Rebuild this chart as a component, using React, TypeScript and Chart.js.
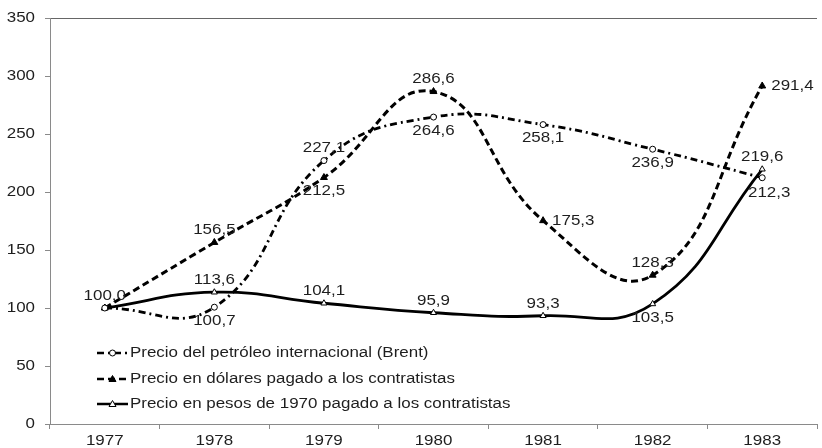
import React, { useEffect, useRef } from "react";
import { Chart, registerables } from "chart.js";

Chart.register(...registerables);

const years = ["1977", "1978", "1979", "1980", "1981", "1982", "1983"];
const brent = [100.0, 100.7, 227.1, 264.6, 258.1, 236.9, 212.3];
const dollars = [100.0, 156.5, 212.5, 286.6, 175.3, 128.3, 291.4];
const pesos = [100.0, 113.6, 104.1, 95.9, 93.3, 103.5, 219.6];

const brentLabelPos = ["above", "below", "above", "below", "below", "below", "belowRight"];
const dollarsLabelPos = ["none", "above", "below", "above", "right", "above", "right"];
const pesosLabelPos = ["none", "above", "above", "above", "above", "below", "above"];

const seriesNames = [
  "Precio del petróleo internacional (Brent)",
  "Precio en dólares pagado a los contratistas",
  "Precio en pesos de 1970 pagado a los contratistas",
];

const yTicks = [0, 50, 100, 150, 200, 250, 300, 350];

const FONT = "'Liberation Sans', Arial, sans-serif";
const FONT_SIZE = 14;
const STRETCH = 1.21;
const TEXT = "#1e1e1e";
const AXIS = "#8a8a8a";

const fmt = (v: number) => v.toFixed(1).replace(".", ",");

function drawText(ctx: any, text: string, x: number, y: number, align: string) {
  ctx.save();
  ctx.translate(x, y);
  ctx.scale(STRETCH, 1);
  ctx.font = `${FONT_SIZE}px ${FONT}`;
  ctx.fillStyle = TEXT;
  ctx.textAlign = align;
  ctx.textBaseline = "middle";
  ctx.fillText(text, 0, 0);
  ctx.restore();
}

const labelPlugin = {
  id: "valueLabels",
  afterDatasetsDraw(chart: any) {
    const ctx = chart.ctx;
    const positions = [brentLabelPos, dollarsLabelPos, pesosLabelPos];
    chart.data.datasets.forEach((ds: any, i: number) => {
      const meta = chart.getDatasetMeta(i);
      meta.data.forEach((pt: any, j: number) => {
        const pos = positions[i][j];
        if (pos === "none") return;
        const text = fmt(ds.data[j]);
        let x = pt.x;
        let y = pt.y;
        let align = "center";
        if (pos === "above") y -= 12;
        else if (pos === "below") y += 14;
        else if (pos === "belowRight") {
          y += 15;
          x += 7;
        } else if (pos === "right") {
          align = "left";
          x += 9;
        }
        drawText(ctx, text, x, y, align);
      });
    });
  },
};

const axisLabelPlugin = {
  id: "axisLabels",
  afterDraw(chart: any) {
    const ctx = chart.ctx;
    const ys = chart.scales.y;
    const xs = chart.scales.x;
    yTicks.forEach((v) => {
      drawText(ctx, String(v), ys.right - 15, ys.getPixelForValue(v), "right");
    });
    years.forEach((lab, i) => {
      drawText(ctx, lab, xs.getPixelForTick(i), xs.top + 17, "center");
    });
  },
};

const legendPlugin = {
  id: "insideLegend",
  afterDraw(chart: any) {
    const ctx = chart.ctx;
    const x0 = 97;
    const x1 = 128;
    const rows = [353, 379, 404];
    const dashes = [[7, 4, 2, 4], [7, 4], []];
    rows.forEach((y, i) => {
      ctx.save();
      ctx.strokeStyle = "#000";
      ctx.lineWidth = 2.5;
      ctx.setLineDash(dashes[i]);
      ctx.beginPath();
      ctx.moveTo(x0, y);
      ctx.lineTo(x1, y);
      ctx.stroke();
      ctx.setLineDash([]);
      const cx = (x0 + x1) / 2;
      ctx.lineWidth = 1;
      if (i === 0) {
        ctx.fillStyle = "#fff";
        ctx.beginPath();
        ctx.arc(cx, y, 3, 0, Math.PI * 2);
        ctx.fill();
        ctx.stroke();
      } else {
        ctx.fillStyle = i === 1 ? "#000" : "#fff";
        ctx.beginPath();
        ctx.moveTo(cx, y - 3.5);
        ctx.lineTo(cx + 3.5, y + 2.5);
        ctx.lineTo(cx - 3.5, y + 2.5);
        ctx.closePath();
        ctx.fill();
        ctx.stroke();
      }
      ctx.restore();
      drawText(ctx, seriesNames[i], x1 + 2, y, "left");
    });
  },
};

export default function App() {
  const ref = useRef<HTMLCanvasElement | null>(null);

  useEffect(() => {
    document.body.style.margin = "0";
    const canvas = ref.current;
    if (!canvas) return;
    const chart = new Chart(canvas, {
      type: "line",
      data: {
        labels: years,
        datasets: [
          {
            label: seriesNames[0],
            data: brent,
            borderColor: "#000",
            borderWidth: 2.8,
            borderDash: [7, 4, 2, 4],
            tension: 0.45,
            pointStyle: "circle",
            pointRadius: 3,
            pointBackgroundColor: "#fff",
            pointBorderColor: "#000",
            pointBorderWidth: 1,
            fill: false,
          },
          {
            label: seriesNames[1],
            data: dollars,
            borderColor: "#000",
            borderWidth: 3,
            borderDash: [7, 4],
            tension: 0.45,
            pointStyle: "triangle",
            pointRadius: 4,
            pointBackgroundColor: "#000",
            pointBorderColor: "#000",
            pointBorderWidth: 1,
            fill: false,
          },
          {
            label: seriesNames[2],
            data: pesos,
            borderColor: "#000",
            borderWidth: 2.8,
            tension: 0.45,
            pointStyle: "triangle",
            pointRadius: 3.5,
            pointBackgroundColor: "#fff",
            pointBorderColor: "#000",
            pointBorderWidth: 1,
            fill: false,
          },
        ],
      },
      options: {
        responsive: false,
        animation: false,
        devicePixelRatio: 1,
        layout: { padding: { top: 18, right: 0, left: 0, bottom: 0 } },
        plugins: {
          legend: { display: false },
          tooltip: { enabled: false },
        },
        scales: {
          x: {
            type: "category",
            offset: true,
            grid: {
              offset: true,
              drawOnChartArea: false,
              drawTicks: true,
              tickLength: 5,
              tickColor: AXIS,
            },
            border: { display: true, color: AXIS, width: 1 },
            ticks: { display: false },
            afterFit: (s: any) => {
              s.height = 24;
            },
          },
          y: {
            min: 0,
            max: 350,
            afterBuildTicks: (s: any) => {
              s.ticks = yTicks.map((v) => ({ value: v }));
            },
            grid: {
              color: (c: any) => (c.tick && c.tick.value === 350 ? "#666" : "transparent"),
              tickColor: AXIS,
              drawTicks: true,
              tickLength: 5,
              lineWidth: 1,
            },
            border: { display: true, color: AXIS, width: 1 },
            ticks: { display: false },
            afterFit: (s: any) => {
              s.width = 50;
            },
          },
        },
      },
      plugins: [labelPlugin, axisLabelPlugin, legendPlugin],
    });
    return () => chart.destroy();
  }, []);

  return (
    <div style={{ width: 822, height: 448 }}>
      <canvas ref={ref} width={822} height={448} />
    </div>
  );
}
